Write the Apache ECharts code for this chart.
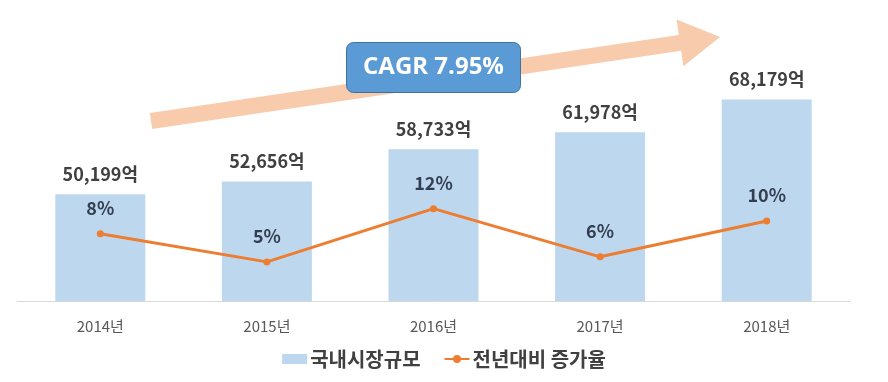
<!DOCTYPE html>
<html>
<head>
<meta charset="utf-8">
<script src="https://cdn.jsdelivr.net/npm/echarts@6/dist/echarts.min.js"></script>
<style>
  html, body { margin: 0; padding: 0; background: #fff; }
  #chart { width: 888px; height: 382px; }
</style>
</head>
<body>
<div id="chart"></div>
<script>
const categories = ['2014년', '2015년', '2016년', '2017년', '2018년'];
const marketSize = [50199, 52656, 58733, 61978, 68179];
const growthRate = [8.4, 4.89, 11.54, 5.52, 10.0];
const barName = '국내시장규모';
const lineName = '전년대비 증가율';
const cagrText = 'CAGR 7.95%';

const KR = '"Noto Sans CJK KR", "Noto Sans", sans-serif';
const chart = echarts.init(document.getElementById('chart'));

chart.setOption({
  backgroundColor: '#ffffff',
  animation: false,
  grid: { left: 17, right: 38, top: 37, bottom: 81 },
  xAxis: {
    type: 'category',
    data: categories,
    axisLine: { show: true, lineStyle: { color: '#d9d9d9', width: 1 } },
    axisTick: { show: false },
    axisLabel: { color: '#595959', fontSize: 15, fontFamily: KR, margin: 18 }
  },
  yAxis: [
    { type: 'value', min: 30000, max: 80000, show: false, splitLine: { show: false } },
    { type: 'value', min: 0, max: 33, show: false, splitLine: { show: false } }
  ],
  legend: {
    top: 344,
    left: 'center',
    itemWidth: 25,
    itemHeight: 10,
    itemGap: 23,
    textStyle: { color: '#404040', fontSize: 20, fontWeight: 'bold', fontFamily: KR, padding: [0, 0, 0, -2] },
    data: [
      { name: barName, icon: 'rect' },
      { name: lineName }
    ]
  },
  graphic: [
    {
      type: 'polygon',
      z: 0,
      shape: {
        points: [
          [149.8, 113.1], [678.8, 35.0], [676.6, 19.6], [720, 37],
          [683.4, 66.2], [681.2, 50.8], [152.2, 128.9]
        ]
      },
      style: { fill: '#f8cbad' }
    },
    {
      type: 'group',
      z: 10,
      left: 346,
      top: 42,
      children: [
        {
          type: 'rect',
          shape: { x: 0, y: 0, width: 174, height: 50, r: 7 },
          style: { fill: '#5b9bd5', stroke: '#41719c', lineWidth: 1 }
        },
        {
          type: 'text',
          style: {
            x: 87, y: 25, text: cagrText, fill: '#ffffff',
            font: 'bold 24px "Open Sans", "Noto Sans", sans-serif',
            align: 'center', verticalAlign: 'middle'
          }
        }
      ]
    }
  ],
  series: [
    {
      name: barName,
      type: 'bar',
      yAxisIndex: 0,
      data: marketSize,
      barWidth: 90,
      itemStyle: { color: '#bdd7ee' },
      label: {
        show: true,
        position: 'top',
        distance: 11,
        color: '#404040',
        fontSize: 18,
        fontWeight: 'bold',
        fontFamily: KR,
        formatter: p => p.value.toLocaleString('en-US') + '억'
      }
    },
    {
      name: lineName,
      type: 'line',
      yAxisIndex: 1,
      data: growthRate,
      symbol: 'circle',
      symbolSize: 7,
      lineStyle: { color: '#ed7d31', width: 3 },
      itemStyle: { color: '#ed7d31' },
      label: {
        show: true,
        position: 'top',
        distance: 13,
        color: '#333f50',
        fontSize: 18,
        fontWeight: 'bold',
        fontFamily: KR,
        formatter: p => Math.round(p.value) + '%'
      }
    }
  ]
});
</script>
</body>
</html>
